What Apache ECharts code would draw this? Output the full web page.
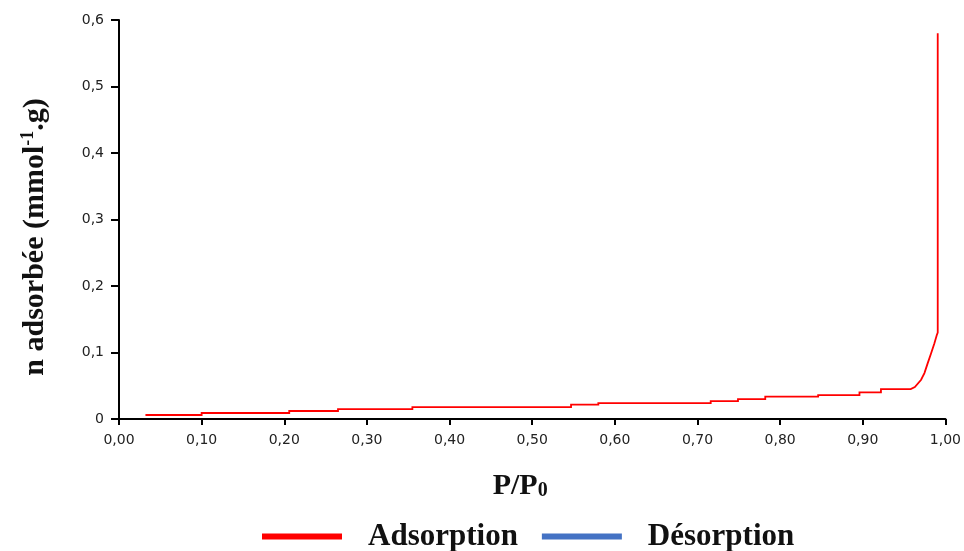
<!DOCTYPE html>
<html>
<head>
<meta charset="utf-8">
<script src="https://cdn.jsdelivr.net/npm/echarts@6/dist/echarts.min.js"></script>
<style>
  html, body { margin: 0; padding: 0; background: #fff; }
  #chart { width: 964px; height: 551px; }
</style>
</head>
<body>
<div id="chart"></div>
<script>
// Nitrogen isotherm: relative pressure P/P0 vs adsorbed amount (stepped readings)
const adsorptionP = [
  0.032, 0.100, 0.100, 0.206, 0.206, 0.265, 0.265, 0.355, 0.355, 0.547,
  0.547, 0.580, 0.580, 0.716, 0.716, 0.749, 0.749, 0.782, 0.782, 0.846,
  0.846, 0.896, 0.896, 0.922, 0.922, 0.958, 0.963, 0.9706, 0.9746, 0.9786,
  0.9827, 0.9867, 0.9895, 0.9907, 0.9907
];
const adsorptionN = [
  0.006, 0.006, 0.009, 0.009, 0.012, 0.012, 0.015, 0.015, 0.018, 0.018,
  0.0215, 0.0215, 0.024, 0.024, 0.027, 0.027, 0.030, 0.030, 0.0335, 0.0335,
  0.036, 0.036, 0.040, 0.040, 0.045, 0.045, 0.048, 0.059, 0.069, 0.084,
  0.099, 0.114, 0.126, 0.130, 0.580
];
const desorptionP = [];
const desorptionN = [];

const xTicks = ['0,00','0,10','0,20','0,30','0,40','0,50','0,60','0,70','0,80','0,90','1,00'];
const yTicks = ['0','0,1','0,2','0,3','0,4','0,5','0,6'];

const seriesNames = ['Adsorption', 'Désorption'];
const seriesColors = ['#ff0000', '#4472c4'];

const pairs = (xs, ys) => xs.map((x, i) => [x, ys[i]]);

const chart = echarts.init(document.getElementById('chart'));
const serif = '"Liberation Serif", "DejaVu Serif", serif';
const sans = '"DejaVu Sans", "Liberation Sans", sans-serif';

// Polylines through the cartesian grid keep every small step of the readings
function isothermSeries(idx, xs, ys) {
  return {
    name: seriesNames[idx],
    type: 'lines',
    coordinateSystem: 'cartesian2d',
    polyline: true,
    silent: true,
    data: xs.length ? [{ coords: pairs(xs, ys) }] : [],
    itemStyle: { color: seriesColors[idx] },
    lineStyle: { color: seriesColors[idx], width: 1.8, opacity: 1 }
  };
}

chart.setOption({
  animation: false,
  backgroundColor: '#ffffff',
  grid: { left: 119, right: 18, top: 20, bottom: 132, containLabel: false },
  legend: {
    data: seriesNames,
    left: 257,
    top: 516,
    icon: 'rect',
    itemWidth: 78,
    itemHeight: 4,
    itemGap: 24,
    textStyle: {
      fontFamily: serif,
      fontWeight: 'bold',
      fontSize: 31,
      color: '#111',
      padding: [0, 0, 0, 22]
    }
  },
  xAxis: {
    type: 'value',
    min: 0,
    max: 1,
    interval: 0.1,
    name: '{a|P/P}{b|0}',
    nameLocation: 'middle',
    nameGap: 52,
    nameTextStyle: {
      padding: [0, 24, 0, 0],
      rich: {
        a: { fontFamily: serif, fontWeight: 'bold', fontSize: 30, lineHeight: 30, verticalAlign: 'bottom', color: '#111' },
        b: { fontFamily: serif, fontWeight: 'bold', fontSize: 20, lineHeight: 20, verticalAlign: 'bottom', color: '#111' }
      }
    },
    axisLine: { lineStyle: { color: '#000', width: 2 } },
    axisTick: { show: true, length: 6, inside: false, lineStyle: { color: '#000', width: 2 } },
    splitLine: { show: false },
    axisLabel: {
      margin: 14,
      fontFamily: sans,
      fontSize: 14,
      color: '#222',
      formatter: (v) => xTicks[Math.round(v * 10)]
    }
  },
  yAxis: {
    type: 'value',
    min: 0,
    max: 0.6,
    interval: 0.1,
    name: '{a|n adsorbée (mmol}{s|-1}{a|.g)}',
    nameLocation: 'middle',
    nameGap: 68,
    nameTextStyle: {
      padding: [0, 35, 0, 0],
      rich: {
        a: { fontFamily: serif, fontWeight: 'bold', fontSize: 30, color: '#111' },
        s: { fontFamily: serif, fontWeight: 'bold', fontSize: 18, color: '#111', padding: [0, 0, 14, 0] }
      }
    },
    axisLine: { show: true, lineStyle: { color: '#000', width: 2 } },
    axisTick: { show: true, length: 8, inside: false, lineStyle: { color: '#000', width: 2 } },
    splitLine: { show: false },
    axisLabel: {
      margin: 15,
      fontFamily: sans,
      fontSize: 14,
      color: '#222',
      formatter: (v) => yTicks[Math.round(v * 10)]
    }
  },
  series: [
    isothermSeries(0, adsorptionP, adsorptionN),
    isothermSeries(1, desorptionP, desorptionN)
  ]
});
</script>
</body>
</html>
